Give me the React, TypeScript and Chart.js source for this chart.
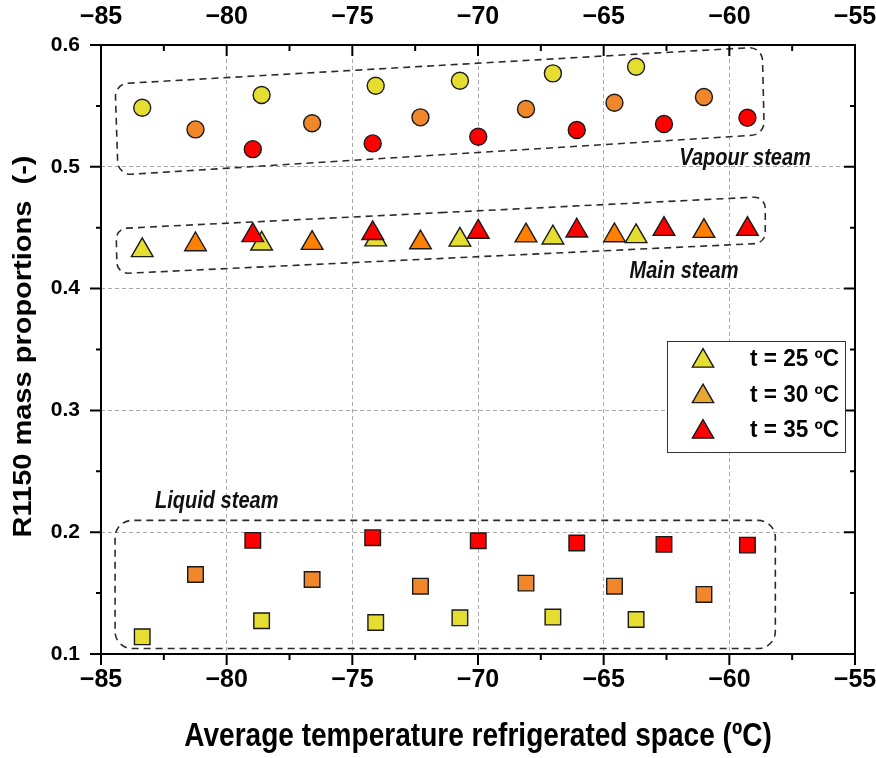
import React, { useEffect, useRef } from 'react';
import { Chart, registerables } from 'chart.js';

Chart.register(...registerables);

// ---------- data ----------
const xT25 = [-83.36, -78.61, -74.07, -70.72, -67.02, -63.71];
const xT30 = [-81.24, -76.6, -72.29, -68.09, -64.57, -61.01];
const xT35 = [-78.96, -74.19, -69.99, -66.07, -62.6, -59.28];

const vapour25 = [0.5485, 0.559, 0.5666, 0.5707, 0.5767, 0.5822];
const vapour30 = [0.5307, 0.5357, 0.5406, 0.5474, 0.5526, 0.5573];
const vapour35 = [0.5145, 0.5192, 0.5247, 0.5302, 0.5351, 0.5403];

const main25 = [0.4314, 0.4368, 0.4402, 0.44, 0.4418, 0.4429];
const main30 = [0.4362, 0.4373, 0.4378, 0.4435, 0.4436, 0.4472];
const main35 = [0.4437, 0.4454, 0.4465, 0.4475, 0.4488, 0.4488];

const liquid25 = [0.1141, 0.1273, 0.1259, 0.1297, 0.1303, 0.1283];
const liquid30 = [0.1653, 0.1612, 0.1557, 0.1582, 0.1557, 0.1489];
const liquid35 = [0.1933, 0.1955, 0.193, 0.1911, 0.19, 0.1894];

const legendLabels = ['t = 25 ºC', 't = 30 ºC', 't = 35 ºC'];
const xTitle = 'Average temperature refrigerated space (ºC)';
const yTitle = 'R1150 mass proportions  (-)';
const xMin = -85, xMax = -55, xStep = 5;
const yMin = 0.1, yMax = 0.6, yStep = 0.1;

// annotation regions (data coordinates of the dashed outlines)
const vapourBox = [[-84.44, 0.568], [-58.69, 0.5984], [-58.61, 0.5265], [-84.32, 0.4932]];
const mainBox = [[-84.4, 0.4492], [-58.57, 0.4755], [-58.57, 0.4373], [-84.36, 0.4122]];
const liquidBox = [[-84.44, 0.2097], [-58.17, 0.2097], [-58.17, 0.1045], [-84.44, 0.1045]];
const regionLabels = ['Vapour steam', 'Main steam', 'Liquid steam'];
const regionLabelPos = [[-61.99, 0.5014], [-63.97, 0.4091], [-82.85, 0.2196]];

// ---------- styles ----------
const FONT = "'Liberation Sans', Arial, sans-serif";
const NARROW = "'Liberation Sans Narrow', 'Arial Narrow', 'Liberation Sans', Arial, sans-serif";
const YELLOW = '#E6DD31';
const ORANGE = '#F0872B';
const ORANGE_TRI = '#FF8000';
const RED = '#FF0000';
const LEGEND_COLORS = [YELLOW, '#E8A633', RED];

function mk(label: string, xs: number[], ys: number[], color: string, style: string, radius: number, order: number) {
  return {
    label,
    data: xs.map((x, i) => ({ x, y: ys[i] })),
    backgroundColor: color,
    borderColor: '#1a1a1a',
    borderWidth: 1.4,
    pointStyle: style,
    pointRadius: radius,
    pointHoverRadius: radius,
    order,
    showLine: false,
  };
}

function roundedPoly(ctx: CanvasRenderingContext2D, pts: number[][], r: number) {
  const n = pts.length;
  ctx.beginPath();
  ctx.moveTo((pts[0][0] + pts[1][0]) / 2, (pts[0][1] + pts[1][1]) / 2);
  for (let i = 1; i <= n; i++) {
    const p = pts[i % n];
    const q = pts[(i + 1) % n];
    ctx.arcTo(p[0], p[1], q[0], q[1], r);
  }
  ctx.closePath();
}

function triangle(ctx: CanvasRenderingContext2D, x: number, y: number, r: number) {
  ctx.beginPath();
  for (let k = 0; k < 3; k++) {
    const a = (k * 2 * Math.PI) / 3;
    const px = x + Math.sin(a) * r;
    const py = y - Math.cos(a) * r;
    if (k === 0) ctx.moveTo(px, py); else ctx.lineTo(px, py);
  }
  ctx.closePath();
}

// text drawn with a horizontal squeeze (sx) like the reference figure
function squeezedText(ctx: CanvasRenderingContext2D, t: string, x: number, y: number, sx: number, rot = 0) {
  ctx.save();
  ctx.translate(x, y);
  if (rot) ctx.rotate(rot);
  if (rot) ctx.scale(1, sx); else ctx.scale(sx, 1);
  ctx.fillText(t, 0, 0);
  ctx.restore();
}

const framePlugin = {
  id: 'frame',
  beforeDatasetsDraw(chart: any) {
    const { ctx } = chart;
    const xs = chart.scales.x, ys = chart.scales.y;
    const toPx = (b: number[][]) => b.map(p => [xs.getPixelForValue(p[0]), ys.getPixelForValue(p[1])]);
    ctx.save();
    ctx.strokeStyle = '#2b2b2b';
    ctx.lineWidth = 1.6;
    ctx.setLineDash([7, 5]);
    roundedPoly(ctx, toPx(vapourBox), 13);
    ctx.stroke();
    roundedPoly(ctx, toPx(mainBox), 11);
    ctx.stroke();
    roundedPoly(ctx, toPx(liquidBox), 17);
    ctx.stroke();
    ctx.setLineDash([]);
    ctx.fillStyle = '#111';
    ctx.font = `italic bold 23px ${FONT}`;
    ctx.textAlign = 'left';
    ctx.textBaseline = 'alphabetic';
    regionLabels.forEach((t, i) => {
      squeezedText(ctx, t, xs.getPixelForValue(regionLabelPos[i][0]), ys.getPixelForValue(regionLabelPos[i][1]), 0.87);
    });
    ctx.restore();
  },
  afterDatasetsDraw(chart: any) {
    const { ctx, chartArea: ca } = chart;
    const xs = chart.scales.x, ys = chart.scales.y;
    ctx.save();
    ctx.strokeStyle = '#000';
    ctx.lineWidth = 2;
    ctx.strokeRect(ca.left, ca.top, ca.right - ca.left, ca.bottom - ca.top);
    ctx.beginPath();
    const nx = Math.round((xMax - xMin) / (xStep / 2));
    for (let k = 0; k <= nx; k++) {
      const px = xs.getPixelForValue(xMin + k * xStep / 2);
      const major = k % 2 === 0;
      const l = major ? 11 : 6;
      ctx.moveTo(px, ca.bottom); ctx.lineTo(px, ca.bottom + l);
      ctx.moveTo(px, ca.top); ctx.lineTo(px, ca.top + l);
    }
    const ny = Math.round((yMax - yMin) / (yStep / 2));
    for (let k = 0; k <= ny; k++) {
      const py = ys.getPixelForValue(yMin + k * yStep / 2);
      const major = k % 2 === 0;
      const l = major ? 11 : 5;
      ctx.moveTo(ca.left, py); ctx.lineTo(ca.left - l, py);
      ctx.moveTo(ca.right, py); ctx.lineTo(ca.right - l, py);
    }
    ctx.stroke();

    // axis titles
    ctx.fillStyle = '#000';
    ctx.textAlign = 'center';
    ctx.textBaseline = 'middle';
    ctx.font = `bold 33px ${FONT}`;
    squeezedText(ctx, xTitle, (ca.left + ca.right) / 2, 737, 0.85);
    ctx.font = `bold 29px ${FONT}`;
    squeezedText(ctx, yTitle, 24, (ca.top + ca.bottom) / 2 - 3, 0.9, -Math.PI / 2);

    // legend
    const lx = 667, ly = 341, lw = 178, lh = 111;
    ctx.fillStyle = '#fff';
    ctx.fillRect(lx, ly, lw, lh);
    ctx.strokeStyle = '#333';
    ctx.lineWidth = 1;
    ctx.strokeRect(lx + 0.5, ly + 0.5, lw, lh);
    legendLabels.forEach((t, i) => {
      const cy = 361 + i * 35.5;
      triangle(ctx, 703, cy, 12.3);
      ctx.fillStyle = LEGEND_COLORS[i];
      ctx.fill();
      ctx.strokeStyle = '#1a1a1a';
      ctx.lineWidth = 1.4;
      ctx.stroke();
      ctx.fillStyle = '#000';
      ctx.font = `bold 23px ${FONT}`;
      ctx.textAlign = 'left';
      ctx.textBaseline = 'middle';
      squeezedText(ctx, t, 750, cy - 1, 0.98);
    });
    ctx.restore();
  },
};

export default function App() {
  const ref = useRef<HTMLCanvasElement>(null);
  useEffect(() => {
    if (!ref.current) return;
    const tickFont = { family: NARROW, size: 25, weight: 'bold' as const };
    const xCb = (v: any) => String(v).replace('-', '\u2212');
    const chart = new Chart(ref.current, {
      type: 'scatter',
      data: {
        datasets: [
          mk('v25', xT25, vapour25, YELLOW, 'circle', 8.5, 3),
          mk('v30', xT30, vapour30, ORANGE, 'circle', 8.5, 2),
          mk('v35', xT35, vapour35, RED, 'circle', 8.5, 1),
          mk('m25', xT25, main25, YELLOW, 'triangle', 12.5, 3),
          mk('m30', xT30, main30, ORANGE_TRI, 'triangle', 12.5, 2),
          mk('m35', xT35, main35, RED, 'triangle', 12.5, 1),
          mk('l25', xT25, liquid25, YELLOW, 'rect', 11, 3),
          mk('l30', xT30, liquid30, ORANGE, 'rect', 11, 2),
          mk('l35', xT35, liquid35, RED, 'rect', 11, 1),
        ] as any,
      },
      options: {
        responsive: false,
        animation: false,
        devicePixelRatio: 1,
        events: [],
        layout: { padding: 0 },
        plugins: { legend: { display: false }, tooltip: { enabled: false } },
        scales: {
          x: {
            type: 'linear', position: 'bottom', min: xMin, max: xMax,
            ticks: { stepSize: xStep, color: '#000', font: tickFont, padding: 11, callback: xCb, maxRotation: 0, autoSkip: false },
            grid: { color: '#a8a8a8', lineWidth: 1, drawTicks: false },
            border: { display: false, dash: [4, 3] },
            afterFit: (s: any) => { s.height = 104; s.paddingLeft = 0; s.paddingRight = 0; },
          },
          x2: {
            type: 'linear', axis: 'x', position: 'top', min: xMin, max: xMax,
            ticks: { stepSize: xStep, color: '#000', font: tickFont, padding: 13, callback: xCb, maxRotation: 0, autoSkip: false },
            grid: { display: false, drawTicks: false },
            border: { display: false },
            afterFit: (s: any) => { s.height = 45; s.paddingLeft = 0; s.paddingRight = 0; },
          },
          y: {
            type: 'linear', position: 'left', min: yMin, max: yMax,
            ticks: { stepSize: yStep, color: '#000', font: { family: FONT, size: 21, weight: 'bold' }, padding: 21, callback: (v: any) => Number(v).toFixed(1) },
            grid: { color: '#a8a8a8', lineWidth: 1, drawTicks: false },
            border: { display: false, dash: [4, 3] },
            afterFit: (s: any) => { s.width = 101; s.paddingTop = 0; s.paddingBottom = 0; },
          },
          y2: {
            type: 'linear', axis: 'y', position: 'right', min: yMin, max: yMax,
            ticks: { display: false },
            grid: { display: false, drawTicks: false },
            border: { display: false },
            afterFit: (s: any) => { s.width = 21; s.paddingTop = 0; s.paddingBottom = 0; },
          },
        },
      } as any,
      plugins: [framePlugin],
    });
    return () => chart.destroy();
  }, []);
  return (
    <div style={{ position: 'absolute', left: 0, top: 0, width: 876, height: 758, background: '#fff' }}>
      <canvas ref={ref} width={876} height={758} style={{ display: 'block', width: 876, height: 758 }} />
    </div>
  );
}
